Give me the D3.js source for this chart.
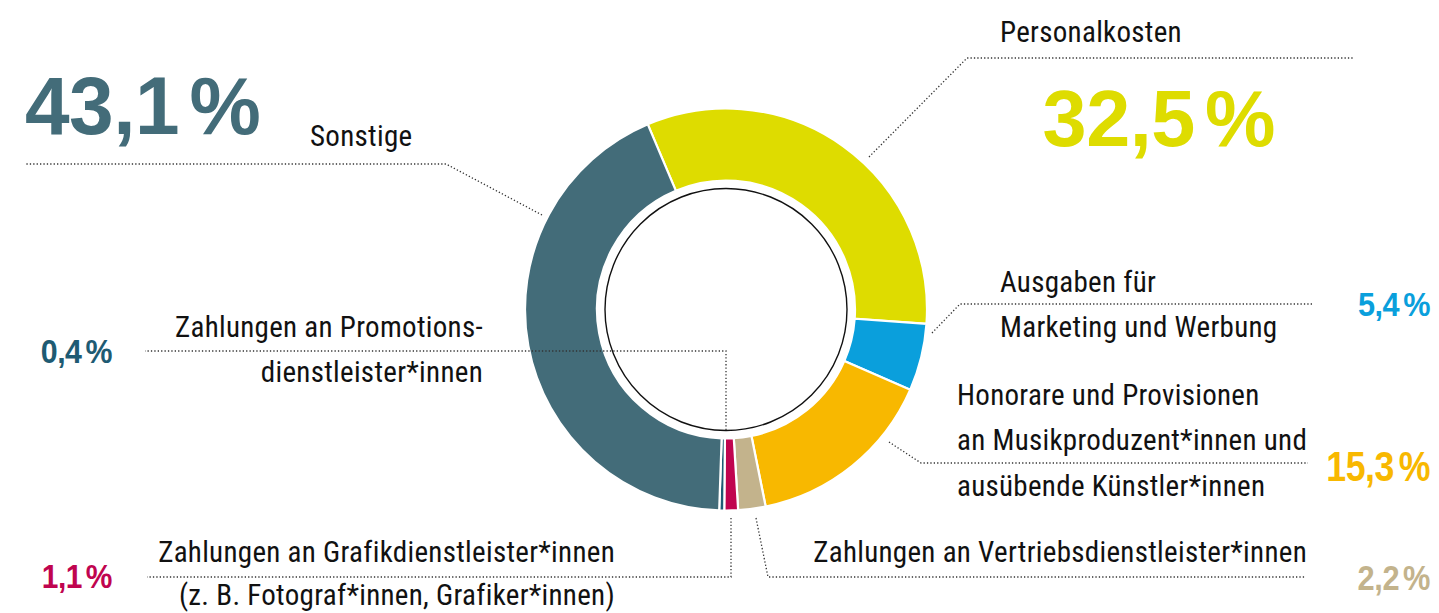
<!DOCTYPE html>
<html lang="de">
<head>
<meta charset="utf-8">
<script src="https://cdn.jsdelivr.net/npm/d3@7/dist/d3.min.js"></script>
<style>
  html, body { margin: 0; padding: 0; background: #fff; }
  svg { display: block; }
  .lbl { font-family: "Liberation Sans Narrow", "Roboto Condensed", "DejaVu Sans Condensed", sans-serif; font-stretch: condensed; fill: #111; }
  .pct { font-family: "Liberation Sans", Arial, "Helvetica Neue", sans-serif; font-weight: 700; }
</style>
</head>
<body>
<svg id="chart" width="1439" height="613"></svg>
<script>
// Ausgabenstruktur (Anteile in %), im Uhrzeigersinn ab Personalkosten
const categories = [
  "Personalkosten",
  "Ausgaben für Marketing und Werbung",
  "Honorare und Provisionen an Musikproduzent*innen und ausübende Künstler*innen",
  "Zahlungen an Vertriebsdienstleister*innen",
  "Zahlungen an Grafikdienstleister*innen (z. B. Fotograf*innen, Grafiker*innen)",
  "Zahlungen an Promotionsdienstleister*innen",
  "Sonstige"
];
const shares = [32.5, 5.4, 15.3, 2.2, 1.1, 0.4, 43.1];
const colors = ["#dedc00", "#0a9fdc", "#f8b800", "#c3b38c", "#c0044f", "#1e5b73", "#436c79"];
const labelLines = [
  ["Personalkosten"],
  ["Ausgaben für", "Marketing und Werbung"],
  ["Honorare und Provisionen", "an Musikproduzent*innen und", "ausübende Künstler*innen"],
  ["Zahlungen an Vertriebsdienstleister*innen"],
  ["Zahlungen an Grafikdienstleister*innen", "(z. B. Fotograf*innen, Grafiker*innen)"],
  ["Zahlungen an Promotions-", "dienstleister*innen"],
  ["Sonstige"]
];

const svg = d3.select("#chart");
const cx = 726, cy = 309.5;
const rOuter = 201, rInner = 129, rHole = 121;
const deg = Math.PI / 180;

const locale = d3.formatLocale({ decimal: ",", thousands: ".", grouping: [3], currency: ["", " €"] });
const fmtNum = locale.format(".1f");

const pie = d3.pie().sort(null).value(d => d)
  .startAngle(-22.9 * deg).endAngle(-22.9 * deg + 2 * Math.PI);
const arc = d3.arc().innerRadius(rInner).outerRadius(rOuter);

const g = svg.append("g").attr("transform", `translate(${cx},${cy})`);
g.selectAll("path.slice")
  .data(pie(shares))
  .join("path")
  .attr("class", "slice")
  .attr("d", arc)
  .attr("fill", (d, i) => colors[i])
  .attr("stroke", "#fff")
  .attr("stroke-width", 2.2)
  .attr("stroke-linejoin", "miter");

g.append("circle")
  .attr("r", rHole)
  .attr("fill", "none")
  .attr("stroke", "#111")
  .attr("stroke-width", 1.4);

// Platzierung der Beschriftungen und Führungslinien
const layout = [
  { lx: 1000, ly: [42], la: "start", px: 1275, py: 146, ps: 80, sx: 0.99, pa: "end",
    lead: [[869, 157], [967, 58], [1353, 58]] },
  { lx: 1000, ly: [292, 337], la: "start", px: 1430, py: 316, ps: 33, sx: 0.93, pa: "end",
    lead: [[932, 333], [960, 304], [1312, 304]] },
  { lx: 957, ly: [405, 450, 496], la: "start", px: 1430, py: 481, ps: 42, sx: 0.85, pa: "end",
    lead: [[889, 442], [921, 463], [1308, 463]] },
  { lx: 1307, ly: [562], la: "end", px: 1430, py: 590, ps: 35, sx: 0.88, pa: "end",
    lead: [[756, 518], [768, 577], [1306, 577]] },
  { lx: 615, ly: [562, 605], la: "end", px: 112, py: 588, ps: 34, sx: 0.88, pa: "end",
    lead: [[731, 518], [731, 577], [147, 577]] },
  { lx: 483, ly: [337, 382], la: "end", px: 112, py: 363, ps: 33, sx: 0.92, pa: "end",
    lead: [[726, 430], [726, 351], [145, 351]] },
  { lx: 310, ly: [146], la: "start", px: 25, py: 134, ps: 81, sx: 0.99, pa: "start",
    lead: [[542, 215], [446, 164], [25, 164]] }
];

const line = d3.line();
svg.append("g").selectAll("path")
  .data(layout)
  .join("path")
  .attr("d", d => line(d.lead))
  .attr("fill", "none")
  .attr("stroke", "#333")
  .attr("stroke-width", 1.3)
  .attr("stroke-dasharray", "1.3 2.1");

const labels = svg.append("g");
layout.forEach((p, i) => {
  const t = labels.append("text")
    .attr("class", "lbl")
    .attr("text-anchor", p.la)
    .attr("font-size", 29)
    .attr("letter-spacing", 0.3);
  labelLines[i].forEach((s, k) => {
    t.append("tspan").attr("x", p.lx).attr("y", p.ly[k]).text(s);
  });
  const v = labels.append("text")
    .attr("class", "pct")
    .attr("transform", `translate(${p.px},${p.py}) scale(${p.sx},1)`)
    .attr("text-anchor", p.pa)
    .attr("font-size", p.ps)
    .attr("letter-spacing", -0.5)
    .attr("fill", colors[i]);
  v.append("tspan").text(fmtNum(shares[i]));
  v.append("tspan").attr("dx", (0.13 * p.ps).toFixed(1)).text("%");
});
</script>
</body>
</html>
